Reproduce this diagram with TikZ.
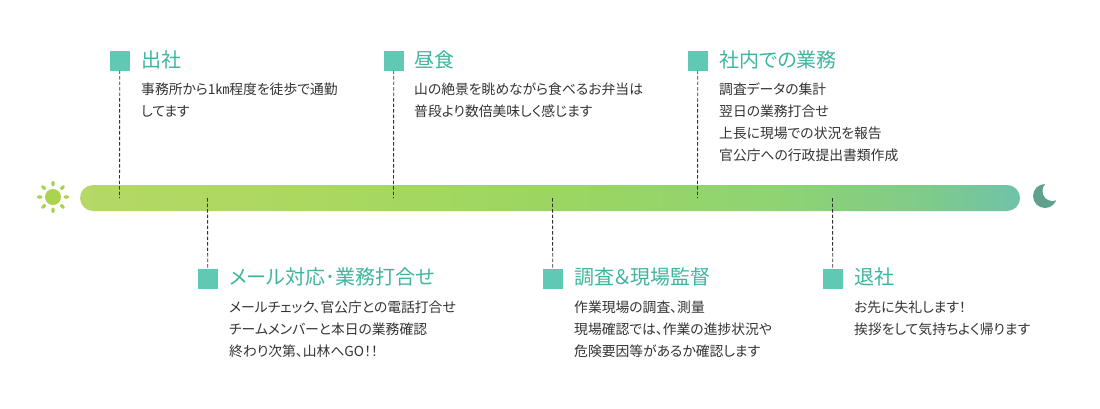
\documentclass[tikz,border=0pt]{standalone}
\usepackage{fontspec}
\setmainfont{Noto Sans CJK JP}[RawFeature=+palt]
\usetikzlibrary{shapes.geometric,calc}
\definecolor{bara}{HTML}{B5D866}
\definecolor{barb}{HTML}{ABD860}
\definecolor{barc}{HTML}{9BD660}
\definecolor{bard}{HTML}{8FD372}
\definecolor{bare}{HTML}{7FCB8A}
\definecolor{barf}{HTML}{6FC2AA}
\definecolor{sq}{HTML}{5FC9B5}
\definecolor{ttl}{HTML}{3FB5A0}
\definecolor{bodyc}{HTML}{333333}
\definecolor{sun}{HTML}{ABD34F}
\definecolor{moon}{HTML}{5FA08E}
\definecolor{dashc}{HTML}{333333}
\pgfdeclarehorizontalshading{barshade}{100bp}{
  color(0bp)=(bara); color(25bp)=(bara); color(37bp)=(barb); color(50bp)=(barc);
  color(62bp)=(bard); color(70bp)=(bare); color(75bp)=(barf); color(100bp)=(barf)}
\tikzset{
  x=1pt,y=-1pt,
  marker/.style={fill=sq,draw=none,minimum size=19.5pt,inner sep=0pt,outer sep=0pt,anchor=north west},
  ttlnode/.style={anchor=base west,inner sep=0pt,text=ttl,font=\fontsize{20}{24}\selectfont},
  bodynode/.style={anchor=north west,inner sep=0pt,text=bodyc,align=left,font=\fontsize{13.8}{22}\selectfont},
  conn/.style={draw=dashc,line width=0.9pt,dash pattern=on 3.5pt off 2pt},
  ray/.style={fill=sun,draw=none,ellipse,minimum width=5.6pt,minimum height=3.6pt,inner sep=0pt}
}
\begin{document}
\begin{tikzpicture}
\useasboundingbox (0,0) rectangle (1100,408);
\node[draw=none,inner sep=0pt,minimum width=940pt,minimum height=26pt,rounded corners=13pt,shading=barshade] (bar) at (550,198) {};
% sun
\node[circle,fill=sun,minimum size=16pt,inner sep=0pt] (sunc) at (53,197) {};
\foreach \a in {0,45,...,315}{
  \node[ray,rotate=-\a] (r\a) at ($(sunc)+(\a:13.3)$) {};
}
% moon
\fill[moon] (1045,196) circle (12);
\fill[white] (1052.5,191) circle (10);
% connector ends on the bar
\coordinate (e1) at (119.5,198);
\coordinate (e2) at (393.5,198);
\coordinate (e3) at (697.5,198);
\coordinate (e4) at (207.5,198);
\coordinate (e5) at (552.5,198);
\coordinate (e6) at (832.5,198);
% markers
\node[marker] (m1) at (110,51) {};
\node[marker] (m2) at (384,51) {};
\node[marker] (m3) at (688,51) {};
\node[marker] (m4) at (198,269) {};
\node[marker] (m5) at (543,269) {};
\node[marker] (m6) at (823,269) {};
\draw[conn] (m1.south) -- (e1);
\draw[conn] (m2.south) -- (e2);
\draw[conn] (m3.south) -- (e3);
\draw[conn] (e4) -- (m4.north);
\draw[conn] (e5) -- (m5.north);
\draw[conn] (e6) -- (m6.north);
% titles
\node[ttlnode] (t1) at (141,67.5) {出社};
\node[ttlnode] (t2) at (414,67.5) {昼食};
\node[ttlnode] (t3) at (719,67.5) {社内での業務};
\node[ttlnode] (t4) at (229,284.5) {メール対応･業務打合せ};
\node[ttlnode] (t5) at (574,284.5) {調査＆現場監督};
\node[ttlnode] (t6) at (854,284.5) {退社};
% bodies
\node[bodynode] (b1) at (141,83) {事務所から1㎞程度を徒歩で通勤\\してます};
\node[bodynode] (b2) at (414,83) {山の絶景を眺めながら食べるお弁当は\\普段より数倍美味しく感じます};
\node[bodynode] (b3) at (719,83) {調査データの集計\\翌日の業務打合せ\\上長に現場での状況を報告\\官公庁への行政提出書類作成};
\node[bodynode] (b4) at (229,301) {メールチェック、官公庁との電話打合せ\\チームメンバーと本日の業務確認\\終わり次第、山林へGO！！};
\node[bodynode] (b5) at (574,301) {作業現場の調査、測量\\現場確認では、作業の進捗状況や\\危険要因等があるか確認します};
\node[bodynode] (b6) at (854,301) {お先に失礼します！\\挨拶をして気持ちよく帰ります};
\end{tikzpicture}
\end{document}
